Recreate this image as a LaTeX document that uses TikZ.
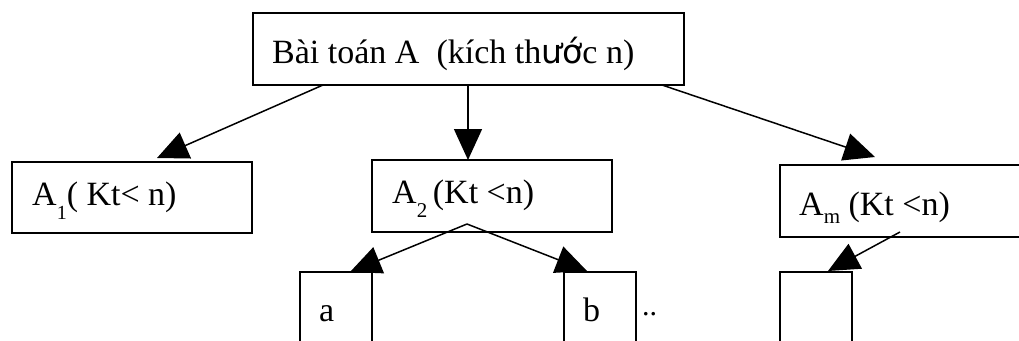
\documentclass[tikz,border=0pt]{standalone}
\usepackage{fontspec}
\setmainfont{Liberation Serif}
\newfontfamily\viesans{DejaVu Sans}
\usetikzlibrary{arrows.meta}
\begin{document}
\begin{tikzpicture}[x=1pt,y=-1pt,
  box/.style={draw,line width=1.5pt,anchor=north west,inner sep=0pt,outer sep=0pt},
  lbl/.style={anchor=base west,inner sep=0pt,font=\fontsize{34}{38}\selectfont},
  conn/.style={line width=1.5pt,-{Triangle[length=31pt,width=28pt]}}]
\useasboundingbox (0,0) rectangle (1019,340);
\clip (0,0) rectangle (1019,340);
% boxes
\node[box,minimum width=431pt,minimum height=72pt] (top) at (253,13) {};
\node[box,minimum width=240pt,minimum height=71pt] (A1) at (12,162) {};
\node[box,minimum width=240pt,minimum height=72pt] (A2) at (372,160) {};
\node[box,minimum width=270pt,minimum height=72pt] (Am) at (780,165) {};
\node[box,minimum width=72pt,minimum height=100pt] (ba) at (300,272) {};
\node[box,minimum width=72pt,minimum height=100pt] (bb) at (564,272) {};
\node[box,minimum width=72pt,minimum height=100pt] (bc) at (780,272) {};
% labels
\node[lbl] (ttop) at (272,63) {Bài toán A\ \ (kích th{\viesans\fontsize{33}{38}\selectfont ướ}c n)};
\node[lbl] (tA1) at (32,205) {A\raisebox{-14pt}{\fontsize{20}{20}\selectfont 1}( Kt< n)};
\node[lbl] (tA2) at (392,203) {A\raisebox{-14pt}{\fontsize{21}{21}\selectfont 2}\,(Kt <n)};
\node[lbl] (tAm) at (799,215) {A\raisebox{-8pt}{\fontsize{21}{21}\selectfont m} (Kt <n)};
\node[lbl] (ta) at (319,321) {a};
\node[lbl] (tb) at (583,321) {b};
\node[lbl,font=\fontsize{30}{30}\selectfont] (tdots) at (642,315) {..};
% connector end points
\coordinate (s1) at (323,85);
\coordinate (e1) at (157,158);
\coordinate (s2) at (468,85);
\coordinate (e2) at (468,160);
\coordinate (s3) at (662,85);
\coordinate (e3) at (875,157);
\coordinate (s4) at (467,224);
\coordinate (e4) at (350,272);
\coordinate (e5) at (587,271);
\coordinate (s6) at (900,232);
\coordinate (e6) at (828,271);
% connectors
\draw[conn] (s1) -- (e1);
\draw[conn] (s2) -- (e2);
\draw[conn] (s3) -- (e3);
\draw[conn] (s4) -- (e4);
\draw[conn] (s4) -- (e5);
\draw[conn] (s6) -- (e6);
\end{tikzpicture}
\end{document}
